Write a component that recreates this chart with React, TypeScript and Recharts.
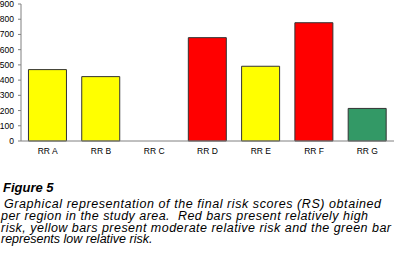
import { BarChart, Bar, XAxis, YAxis, Cell } from 'recharts';

const regions = ["RR A", "RR B", "RR C", "RR D", "RR E", "RR F", "RR G"];
const scores = [469, 423, 0, 679, 491, 777, 214];
const barColors = ["#FFFF00", "#FFFF00", "#FFFF00", "#FF0000", "#FFFF00", "#FF0000", "#339966"];
const yTicks = [0, 100, 200, 300, 400, 500, 600, 700, 800, 900];
const boundaryTicks = [0, 1, 2, 3, 4, 5, 6, 7];

const captionTitle = "Figure 5";
const captionLines = [
    "Graphical representation of the final risk scores (RS) obtained",
    "per region in the study area.  Red bars present relatively high",
    "risk, yellow bars present moderate relative risk and the green bar",
    "represents low relative risk.",
];

const data = regions.map((region, i) => ({ region, score: scores[i] }));

const axisColor = '#808080';
const font = 'Arial, "Liberation Sans", sans-serif';
const tickStyle = { fill: '#000', fontSize: 8.5, fontFamily: font };

// caption layout: left edge and width of each line as they sit in the figure
const lineX = [4, 1, 1, 1];
const lineWidth = [377, 367, 390, 0];

const App = () => {
    return (
        <div style={{ position: 'absolute', left: 0, top: 0, width: 395, height: 259, background: '#fff', overflow: 'hidden' }}>
            <BarChart
                width={395}
                height={160}
                data={data}
                margin={{ top: 4, right: 1, left: 0, bottom: 0 }}
                barCategoryGap="14%"
            >
                {/* category boundary ticks, Excel style */}
                <XAxis
                    xAxisId="bounds"
                    type="number"
                    domain={[0, 7]}
                    ticks={boundaryTicks}
                    height={0}
                    axisLine={false}
                    tick={false}
                    tickLine={{ stroke: axisColor }}
                    tickSize={4}
                />
                <XAxis
                    dataKey="region"
                    height={19}
                    axisLine={{ stroke: axisColor }}
                    tickLine={false}
                    tickSize={4}
                    tickMargin={3}
                    tick={tickStyle}
                    interval={0}
                />
                <YAxis
                    width={21}
                    domain={[0, 900]}
                    ticks={yTicks}
                    interval={0}
                    axisLine={{ stroke: axisColor }}
                    tickLine={{ stroke: axisColor }}
                    tickSize={3}
                    tickMargin={4}
                    tick={tickStyle}
                />
                <Bar dataKey="score" stroke="#333333" strokeWidth={1} isAnimationActive={false}>
                    {data.map((d, i) => (
                        <Cell key={d.region} fill={barColors[i]} />
                    ))}
                </Bar>
            </BarChart>
            <svg width={395} height={99} style={{ position: 'absolute', left: 0, top: 160 }}>
                <text x={3} y={32.3} fontFamily={font} fontStyle="italic" fontWeight="bold" fontSize={13} fill="#000">
                    {captionTitle}
                </text>
                {captionLines.map((line, i) => (
                    <text
                        key={line}
                        x={lineX[i]}
                        y={48.3 + i * 11.7}
                        fontFamily={font}
                        fontStyle="italic"
                        fontSize={12.5}
                        fill="#000"
                        style={{ whiteSpace: 'pre' }}
                        {...(lineWidth[i] ? { textLength: lineWidth[i], lengthAdjust: 'spacing' } : {})}
                    >
                        {line}
                    </text>
                ))}
            </svg>
        </div>
    );
};

export default App;
